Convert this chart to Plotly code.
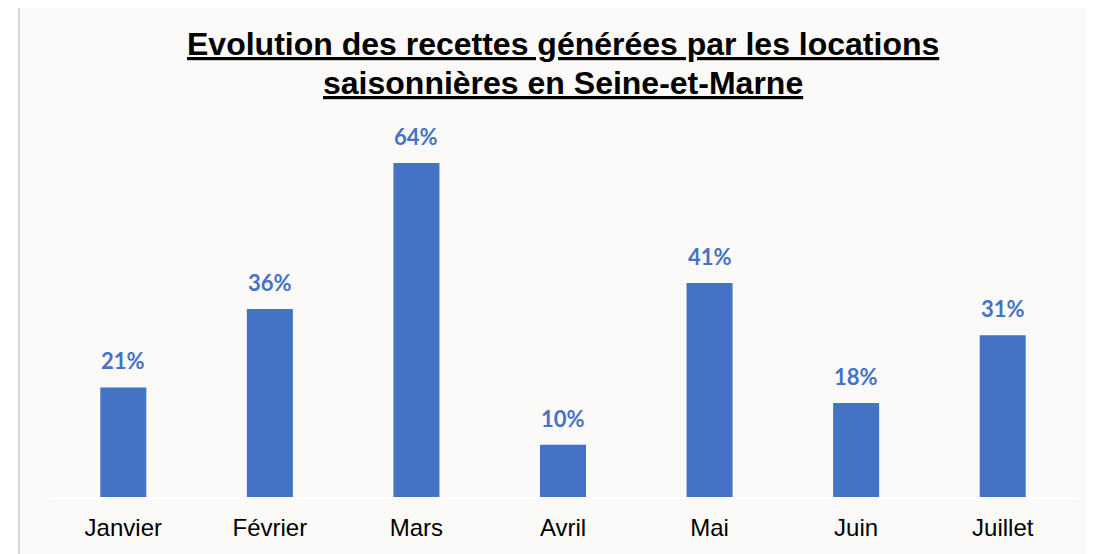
import plotly.graph_objects as go

months = ["Janvier", "Février", "Mars", "Avril", "Mai", "Juin", "Juillet"]
values = [21, 36, 64, 10, 41, 18, 31]
labels = ["21%", "36%", "64%", "10%", "41%", "18%", "31%"]
title_lines = ["Evolution des recettes générées par les locations",
               "saisonnières en Seine-et-Marne"]

BLUE = "#4472C4"
OFF = 8  # page body margin
W, H = 1094 - OFF, 554 - OFF
ML = 50 - OFF
MR = W - (1076 - OFF)
MT = 120 - OFF
MB = H - (497 - OFF)
PW = W - ML - MR
PH = H - MT - MB

def px_x(px):
    return (px - OFF - ML) / PW

def px_y(py):
    return (H - MB - (py - OFF)) / PH

fig = go.Figure()
fig.add_trace(go.Bar(x=months, y=values, marker=dict(color=BLUE, line=dict(width=0)),
                     hoverinfo="skip"))

for m, v, t in zip(months, values, labels):
    fig.add_annotation(x=m, y=v, text="<b>%s</b>" % t, showarrow=False,
                       yanchor="bottom", yshift=11,
                       font=dict(family="Lato", size=22, color=BLUE))

for i, line in enumerate(title_lines):
    fig.add_annotation(xref="paper", yref="paper", x=0.5, y=px_y(24 + 39 * i),
                       yanchor="top", text="<b><u>%s</u></b>" % line,
                       showarrow=False, align="center",
                       font=dict(family="Liberation Sans, Arial", size=32, color="#000000"))

fig.add_shape(type="rect", xref="paper", yref="paper", layer="below",
              x0=px_x(19), x1=px_x(1200), y0=px_y(3), y1=px_y(700),
              line=dict(color="#D9D9D9", width=2), fillcolor="#FBFAF9")

fig.update_layout(
    width=W, height=H,
    margin=dict(l=ML, r=MR, t=MT, b=MB, pad=0),
    paper_bgcolor="white", plot_bgcolor="rgba(0,0,0,0)",
    showlegend=False, bargap=0.686,
    xaxis=dict(showline=True, linecolor="#FFFFFF", linewidth=2, ticks="",
               showgrid=False, zeroline=False, fixedrange=True,
               tickfont=dict(family="Liberation Sans, Arial", size=24, color="#000000"),
               ticklabelstandoff=8),
    yaxis=dict(range=[0, PH / 5.22], visible=False, showgrid=False, zeroline=False,
               fixedrange=True),
)

fig.write_html("out.html")
